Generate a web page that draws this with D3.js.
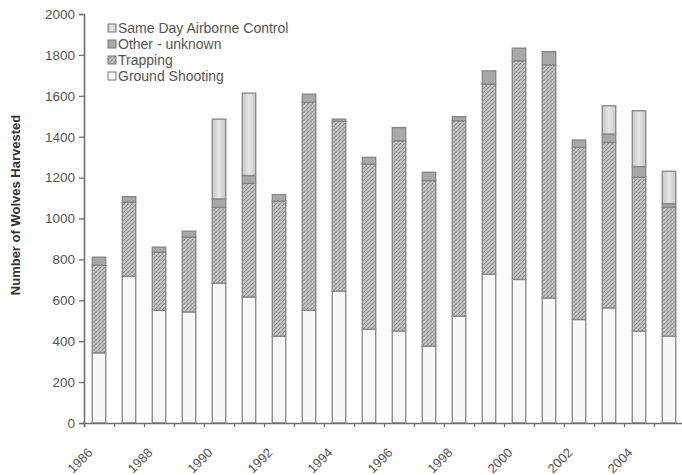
<!DOCTYPE html>
<html><head><meta charset="utf-8">
<script src="https://cdn.jsdelivr.net/npm/d3@7"></script>
<style>body{margin:0;background:#fff}svg{display:block}text{font-family:"Liberation Sans",Arial,sans-serif}</style>
</head><body><svg id="c" width="682" height="475"></svg>
<script>
const years = [1986,1987,1988,1989,1990,1991,1992,1993,1994,1995,1996,1997,1998,1999,2000,2001,2002,2003,2004,2005];
const groundShooting = [343,717,551,543,684,616,424,551,645,458,450,376,522,727,702,611,506,563,449,424];
const trapping = [428,363,285,366,371,556,661,1017,830,808,930,809,956,930,1069,1140,842,809,753,631];
const otherUnknown = [40,27,24,29,41,38,32,40,11,33,65,41,20,65,62,65,36,41,52,17];
const airborne = [0,0,0,0,390,403,0,0,0,0,0,0,0,0,0,0,0,138,273,159];
const yTicks = [0,200,400,600,800,1000,1200,1400,1600,1800,2000];
const xLabels = [1986,1988,1990,1992,1994,1996,1998,2000,2002,2004];
const seriesNames = ["Ground Shooting","Trapping","Other - unknown","Same Day Airborne Control"];
const legendOrder = ["Same Day Airborne Control","Other - unknown","Trapping","Ground Shooting"];

const svg = d3.select("#c");
const defs = svg.append("defs");
const pat = defs.append("pattern").attr("id","hatch").attr("patternUnits","userSpaceOnUse")
  .attr("width",4).attr("height",4);
pat.append("rect").attr("width",4).attr("height",4).attr("fill","#c2c2c2");
pat.append("path").attr("d","M0,4L4,0M-1,1L1,-1M3,5L5,3").attr("stroke","#8a8a8a").attr("stroke-width",1);
pat.append("path").attr("d","M0,0L4,4").attr("stroke","#a4a4a4").attr("stroke-width",0.7);
pat.append("rect").attr("x",0.5).attr("y",1.5).attr("width",1).attr("height",1).attr("fill","#e6e6e6");
const grad = defs.append("linearGradient").attr("id","air").attr("x1","0").attr("x2","1");
grad.append("stop").attr("offset","0").attr("stop-color","#c6c6c6");
grad.append("stop").attr("offset","0.5").attr("stop-color","#e6e6e6");
grad.append("stop").attr("offset","1").attr("stop-color","#c6c6c6");

const fills = {"Ground Shooting":"#f7f7f7","Trapping":"url(#hatch)","Other - unknown":"#a8a8a8","Same Day Airborne Control":"url(#air)"};

const x = d3.scaleBand().domain(years).range([84,684]).paddingInner(0.55).paddingOuter(0.275);
const xTick = d3.scaleLinear().domain([1986,2006]).range([84,684]);
const y = d3.scaleLinear().domain([0,2000]).range([423,14]);

const table = years.map((yr,i)=>({year:yr,"Ground Shooting":groundShooting[i],"Trapping":trapping[i],"Other - unknown":otherUnknown[i],"Same Day Airborne Control":airborne[i]}));
const stack = d3.stack().keys(seriesNames)(table);

const g = svg.append("g");
stack.forEach(s=>{
  g.selectAll(null).data(s.filter(d=>d[1]-d[0]>0)).enter().append("rect")
    .attr("x",d=>x(d.data.year)).attr("width",x.bandwidth())
    .attr("y",d=>y(d[1])).attr("height",d=>y(d[0])-y(d[1]))
    .attr("fill",fills[s.key]).attr("stroke","#858585").attr("stroke-width",1.3);
});

// y axis
const ya = svg.append("g").attr("transform","translate(84,0)")
  .call(d3.axisLeft(y).tickValues(yTicks).tickSize(5).tickPadding(4).tickFormat(d3.format("d")));
ya.select(".domain").attr("stroke","#6e6e6e").attr("stroke-width",1.6);
ya.selectAll(".tick line").attr("stroke","#6e6e6e").attr("stroke-width",1.3);
ya.selectAll(".tick text").attr("font-size",13.5).attr("fill","#555").attr("font-family","Liberation Sans, Arial, sans-serif");

// x axis
const xa = svg.append("g").attr("transform","translate(0,423)")
  .call(d3.axisBottom(xTick).tickValues(years).tickSize(4).tickFormat(""));
xa.select(".domain").attr("stroke","#6e6e6e").attr("stroke-width",1.6);
xa.selectAll(".tick line").attr("stroke","#6e6e6e").attr("stroke-width",1.3);
svg.append("g").selectAll("text").data(xLabels).enter().append("text")
  .attr("transform",d=>`translate(${x(d)+x.bandwidth()/2-12},447) rotate(-45)`)
  .attr("text-anchor","end").attr("dy","0.7em").attr("font-size",13).attr("fill","#555")
  .text(d=>d);

// y title
svg.append("text").attr("transform","translate(20,205) rotate(-90)")
  .attr("text-anchor","middle").attr("font-size",13).attr("font-weight","bold").attr("fill","#333")
  .text("Number of Wolves Harvested");

// legend
const lg = svg.append("g").attr("transform","translate(108,28)");
legendOrder.forEach((k,i)=>{
  const row = lg.append("g").attr("transform",`translate(0,${i*16})`);
  row.append("rect").attr("x",0).attr("y",-4).attr("width",8).attr("height",8)
    .attr("fill",fills[k]).attr("stroke","#777").attr("stroke-width",1);
  row.append("text").attr("x",10).attr("y",0).attr("dy","0.36em").attr("font-size",14).attr("fill","#555").text(k);
});
</script></body></html>
